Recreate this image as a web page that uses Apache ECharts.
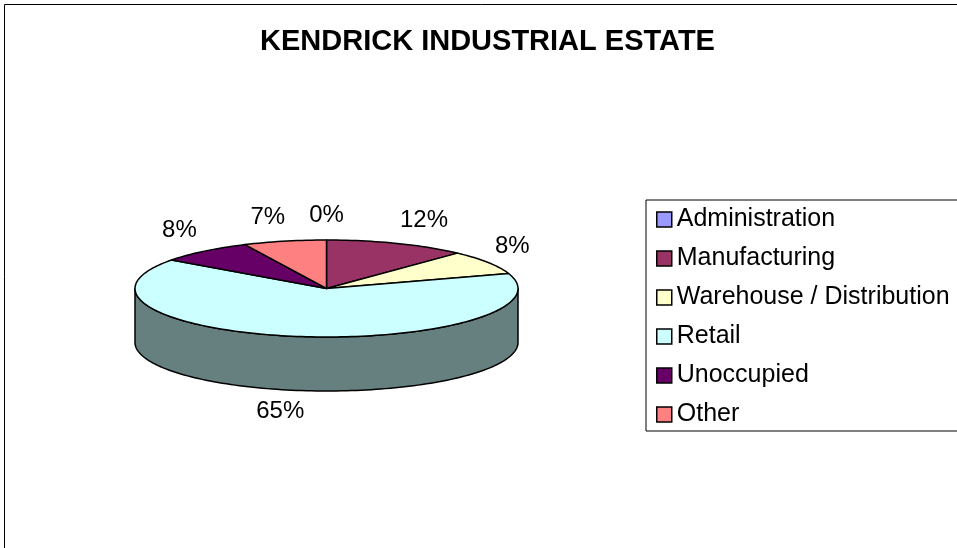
<!DOCTYPE html>
<html>
<head>
<meta charset="utf-8">
<script src="https://cdn.jsdelivr.net/npm/echarts@6/dist/echarts.min.js"></script>
<style>
  html, body { margin: 0; padding: 0; background: #fff; }
  #chart { width: 957px; height: 548px; }
</style>
</head>
<body>
<div id="chart"></div>
<script>
// Occupancy shares by use (percent of estate)
const categories = ['Administration', 'Manufacturing', 'Warehouse / Distribution', 'Retail', 'Unoccupied', 'Other'];
const shares = [0, 12, 8, 65, 8, 7];
const sliceColors = ['#9999FF', '#993366', '#FFFFCC', '#CCFFFF', '#660066', '#FF8080'];
const titleText = 'KENDRICK INDUSTRIAL ESTATE';

const FONT = "'Liberation Sans', Arial, Helvetica, sans-serif";
const LABEL_SIZE = 24;

// Tilted pie geometry: top-face ellipse and wall height
const PIE = { cx: 326.5, cy: 288.5, rx: 191.5, ry: 48.5, depth: 54 };
const total = shares.reduce((a, b) => a + b, 0);

function shade(hex, f) {
  const n = parseInt(hex.slice(1), 16);
  const r = Math.round(((n >> 16) & 255) * f);
  const g = Math.round(((n >> 8) & 255) * f);
  const b = Math.round((n & 255) * f);
  return 'rgb(' + r + ',' + g + ',' + b + ')';
}

const measureCtx = document.createElement('canvas').getContext('2d');
function textWidth(str, size) {
  measureCtx.font = size + 'px ' + FONT;
  return measureCtx.measureText(str).width;
}

// angle in degrees, clockwise from 12 o'clock
function rimPoint(theta, drop) {
  const t = theta * Math.PI / 180;
  return [PIE.cx + PIE.rx * Math.sin(t), PIE.cy - PIE.ry * Math.cos(t) + drop];
}
function arc(a0, a1, drop) {
  const steps = Math.max(2, Math.ceil(Math.abs(a1 - a0) / 1.5));
  const pts = [];
  for (let i = 0; i <= steps; i++) pts.push(rimPoint(a0 + (a1 - a0) * i / steps, drop));
  return pts;
}
const clamp = (v) => Math.max(-1, Math.min(1, v));

function renderSlice(idx) {
  return function (params, api) {
    const value = shares[idx];
    let start = 0;
    for (let i = 0; i < idx; i++) start += shares[i];
    const a0 = start / total * 360;
    const a1 = (start + value) / total * 360;
    const color = sliceColors[idx];
    const line = { stroke: '#000', lineWidth: 1.5, lineJoin: 'round' };
    const children = [];

    if (value > 0) {
      // front wall is visible only between 90° and 270°
      const f0 = Math.max(a0, 90), f1 = Math.min(a1, 270);
      if (f1 > f0) {
        const pts = arc(f0, f1, 0).concat(arc(f1, f0, PIE.depth));
        children.push({
          type: 'polygon', z2: 1,
          shape: { points: pts },
          style: Object.assign({ fill: shade(color, 0.5) }, line)
        });
      }
      children.push({
        type: 'polygon', z2: 5,
        shape: { points: [[PIE.cx, PIE.cy]].concat(arc(a0, a1, 0)) },
        style: Object.assign({ fill: color }, line)
      });
    }

    // percentage label just outside the rim at the slice's mid-angle
    const pct = Math.round(value / total * 100) + '%';
    const mid = (a0 + a1) / 2 * Math.PI / 180;
    const s = Math.sin(mid), c = Math.cos(mid);
    const gx = s < -0.5 ? 12 : 8, gy = c >= 0 ? 17 : 12;
    const ax = PIE.cx + (PIE.rx + gx) * s;
    const ay = (c >= 0 ? PIE.cy : PIE.cy + PIE.depth) - (PIE.ry + gy) * c;
    const w = textWidth(pct, LABEL_SIZE), h = 17;
    children.push({
      type: 'text', z2: 10,
      x: ax + w / 2 * clamp(4 * s),
      y: ay - h / 2 * clamp(4 * c) + 1,
      style: {
        text: pct, fill: '#000',
        fontSize: LABEL_SIZE, fontFamily: FONT,
        align: 'center', verticalAlign: 'middle'
      }
    });
    return { type: 'group', children: children };
  };
}

const chart = echarts.init(document.getElementById('chart'), null, { renderer: 'canvas' });
chart.setOption({
  animation: false,
  backgroundColor: '#fff',
  title: {
    text: titleText,
    left: 487.5, top: 27.5, padding: 0,
    textAlign: 'center', textVerticalAlign: 'top',
    textStyle: { fontSize: 29, fontWeight: 'bold', fontFamily: FONT, color: '#000', lineHeight: 29 }
  },
  legend: {
    orient: 'vertical',
    left: 646, top: 200,
    padding: [7, 40, 4, 10],
    itemGap: 14, itemWidth: 15, itemHeight: 15,
    icon: 'rect',
    selectedMode: false,
    borderColor: '#000', borderWidth: 1,
    itemStyle: { borderColor: '#000', borderWidth: 1.5 },
    textStyle: { fontSize: 25, fontFamily: FONT, color: '#000', lineHeight: 25 },
    data: categories
  },
  graphic: [{
    type: 'rect', z: -1, silent: true,
    shape: { x: 4.5, y: 4.5, width: 1200, height: 800 },
    style: { fill: 'transparent', stroke: '#000', lineWidth: 1 }
  }],
  series: categories.map((name, idx) => ({
    type: 'custom',
    name: name,
    coordinateSystem: 'none',
    silent: true,
    itemStyle: { color: sliceColors[idx], borderColor: '#000', borderWidth: 1.5 },
    data: [[shares[idx]]],
    renderItem: renderSlice(idx)
  }))
});
</script>
</body>
</html>
